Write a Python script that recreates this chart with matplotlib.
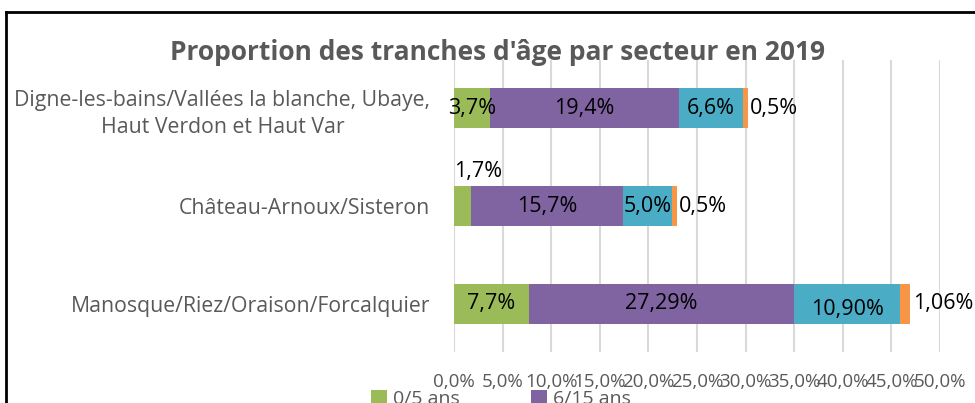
import matplotlib
matplotlib.use('Agg')
import matplotlib.pyplot as plt
import numpy as np
from matplotlib.lines import Line2D

plt.rcParams['font.family'] = ['Open Sans', 'DejaVu Sans']

secteurs = ['Digne-les-bains/Vallées la blanche, Ubaye,\nHaut Verdon et Haut Var',
            'Château-Arnoux/Sisteron',
            'Manosque/Riez/Oraison/Forcalquier']
tranches = ['0/5 ans', '6/15 ans', '16/17 ans', '18/19 ans']
val_0_5 = [3.7, 1.7, 7.7]
val_6_15 = [19.4, 15.7, 27.29]
val_16_17 = [6.6, 5.0, 10.90]
val_18_19 = [0.5, 0.5, 1.06]
etiquettes = [['3,7%', '19,4%', '6,6%', '0,5%'],
              ['1,7%', '15,7%', '5,0%', '0,5%'],
              ['7,7%', '27,29%', '10,90%', '1,06%']]
ticks = np.arange(0, 55, 5)
tick_labels = ['0,0%', '5,0%', '10,0%', '15,0%', '20,0%', '25,0%', '30,0%',
               '35,0%', '40,0%', '45,0%', '50,0%']

couleurs = ['#9BBB59', '#8064A2', '#4BACC6', '#F79646']
gris = '#595959'

fig = plt.figure(figsize=(9.75, 4.03), dpi=100)
ax = fig.add_axes([454/975, 1-352/403, (940-454)/975, (352-60)/403])

y = np.array([2, 1, 0])
series = [val_0_5, val_6_15, val_16_17, val_18_19]
left = np.zeros(3)
bars = []
for i, vals in enumerate(series):
    b = ax.barh(y, vals, left=left, height=0.41, color=couleurs[i],
                label=tranches[i], zorder=3)
    bars.append(b)
    for j in range(3):
        txt = etiquettes[j][i]
        if i == 3:
            ax.annotate(txt, xy=(left[j] + vals[j], y[j]), xytext=(2, 0),
                        textcoords='offset points', ha='left', va='center',
                        fontsize=15.5, color='black', zorder=4)
        elif j == 1 and i == 0:
            ax.annotate(txt, xy=(0, y[j]), xytext=(0, 25),
                        textcoords='offset points', ha='left', va='center',
                        fontsize=15.5, color='black', zorder=4)
        else:
            dy = -4 if (j == 2 and i == 2) else 0
            ax.annotate(txt, xy=(left[j] + vals[j]/2, y[j]), xytext=(0, dy),
                        textcoords='offset points', ha='center', va='center',
                        fontsize=15.5, color='black', zorder=4)
    left = left + np.array(vals)

ax.set_xlim(0, 50)
ax.set_ylim(-0.49, 2.49)
ax.set_xticks(ticks)
ax.set_xticklabels(tick_labels, fontsize=13.5, color=gris)
ax.set_yticks(y)
ax.set_yticklabels(secteurs, fontsize=15.3, color=gris, ha='right',
                   multialignment='center', linespacing=1.4)
ax.tick_params(axis='both', length=0)
ax.tick_params(axis='x', pad=15)
ax.tick_params(axis='y', pad=17)
ax.grid(axis='x', color='#D9D9D9', linewidth=1.5, zorder=0)
for s in ax.spines.values():
    s.set_visible(False)

fig.text(0.51, 1-52/403, "Proportion des tranches d'âge par secteur en 2019",
         ha='center', va='center', fontsize=19, fontweight='bold', color=gris)

# ordre ligne par ligne : 0/5, 6/15 sur la première ligne
ordre = [0, 2, 1, 3]
leg = fig.legend(handles=[bars[k] for k in ordre],
                 labels=[tranches[k] for k in ordre], ncol=2, frameon=False,
                 fontsize=14, loc='upper left',
                 bbox_to_anchor=(371/975, 1-390/403),
                 borderpad=0, borderaxespad=0,
                 handlelength=0.8, handleheight=0.8, handletextpad=0.35,
                 columnspacing=2.5, labelcolor=gris)

fig.add_artist(Line2D([6/975, 6/975], [0, 1-12/403], transform=fig.transFigure,
                      color='black', linewidth=2))
fig.add_artist(Line2D([6/975, 1], [1-12/403, 1-12/403], transform=fig.transFigure,
                      color='black', linewidth=2))

fig.savefig('out.png', dpi=100)
